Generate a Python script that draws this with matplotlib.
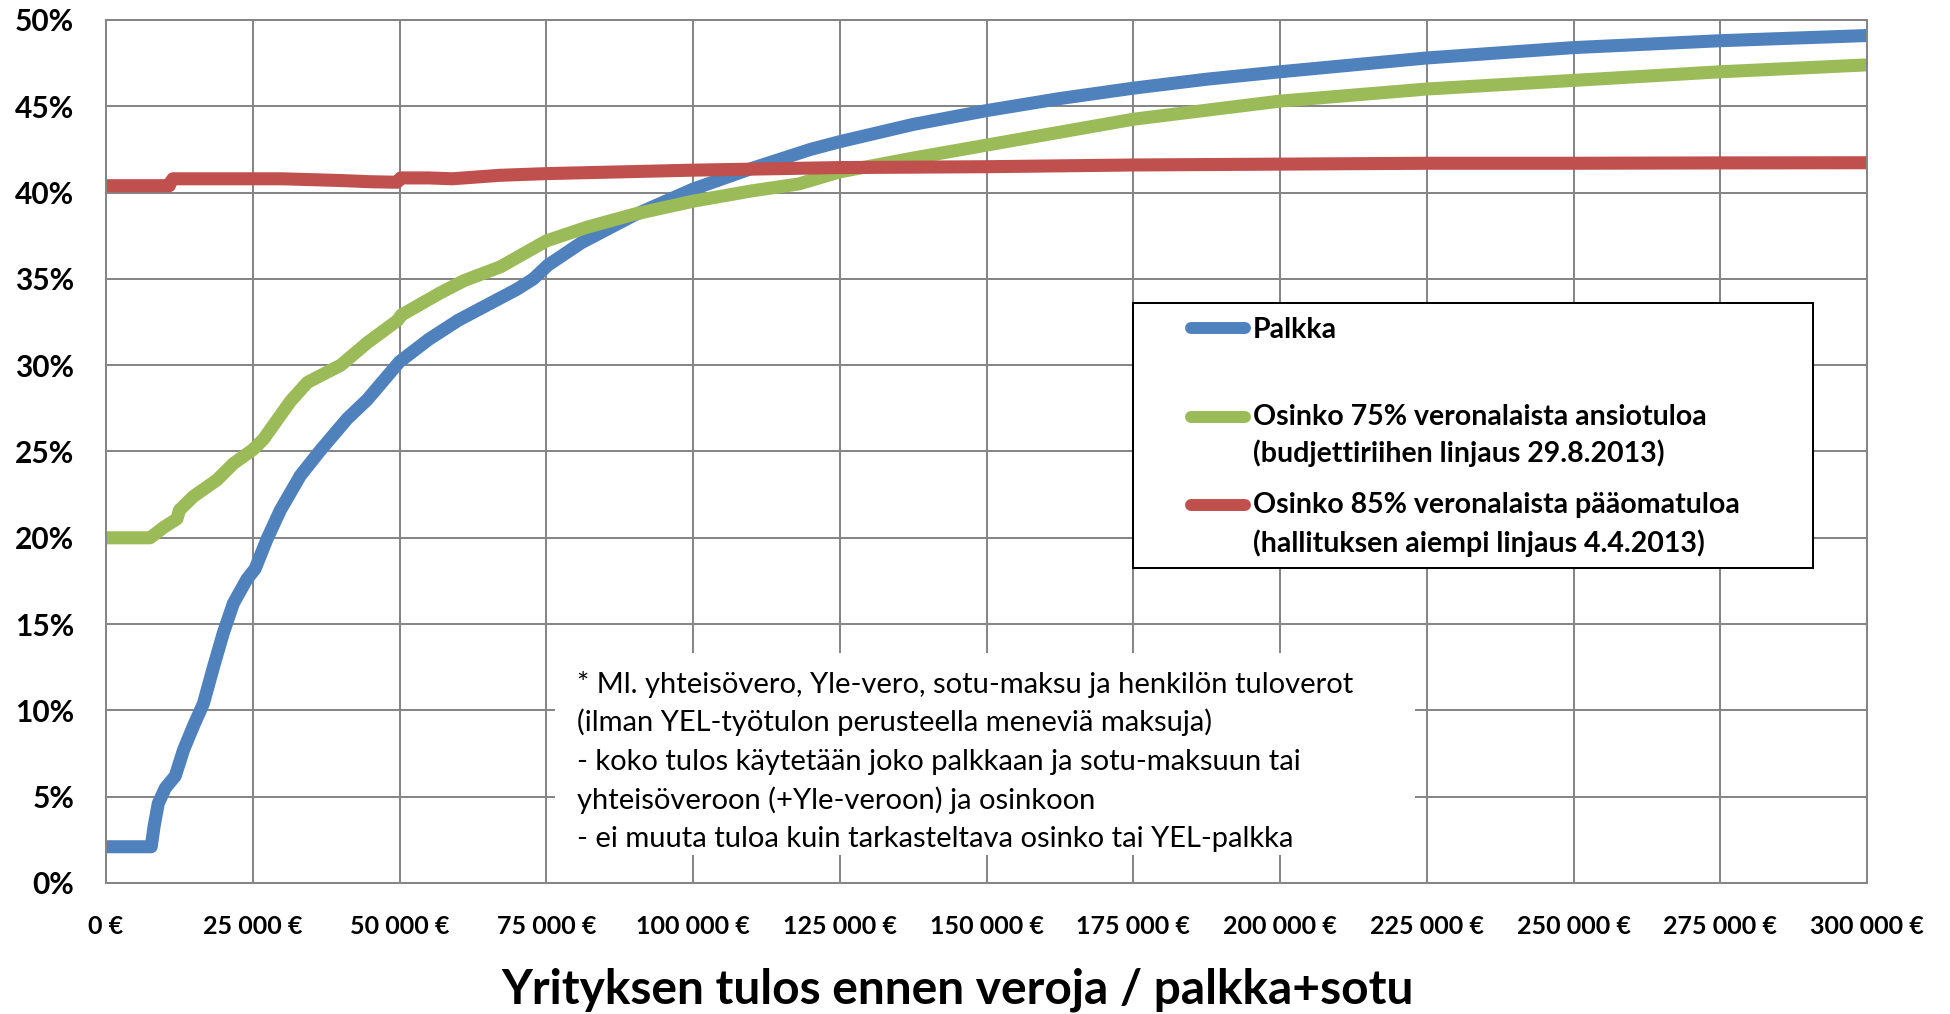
import matplotlib
matplotlib.use("Agg")
import matplotlib.pyplot as plt
from matplotlib.transforms import Affine2D
from matplotlib.patches import Rectangle
from matplotlib.lines import Line2D

plt.rcParams['font.family'] = ['Lato', 'DejaVu Sans']

# ---------------- data ----------------
palkka_x = [0, 7700, 8200, 8900, 10100, 11800, 13200, 14900, 16600, 18300, 20000, 21700,
            24000, 25400, 27400, 29700, 33100, 36600, 41100, 44500, 50000, 55000, 60000,
            65000, 70000, 72800, 75300, 81000, 90000, 100000, 110000, 120000, 125000,
            137500, 150000, 162500, 175000, 187500, 200000, 225000, 250000, 275000, 300000]
palkka_y = [2.1, 2.1, 3.3, 4.6, 5.5, 6.2, 7.7, 9.1, 10.4, 12.5, 14.5, 16.2,
            17.6, 18.2, 19.9, 21.6, 23.6, 25.1, 26.9, 28.0, 30.2, 31.5, 32.6,
            33.5, 34.4, 35.0, 35.8, 37.1, 38.7, 40.2, 41.4, 42.5, 42.95,
            43.95, 44.75, 45.45, 46.05, 46.57, 47.0, 47.8, 48.4, 48.8, 49.1]

osinko75_x = [0, 7500, 9800, 12100, 12500, 14900, 18900, 21700, 25000, 26800, 29100,
              31400, 34300, 37700, 40000, 44500, 49700, 50300, 57000, 61000, 67200,
              75000, 82000, 90000, 100000, 110000, 118000, 125000, 137500, 150000,
              175000, 200000, 225000, 250000, 275000, 300000]
osinko75_y = [20.0, 20.0, 20.6, 21.1, 21.6, 22.4, 23.35, 24.3, 25.1, 25.7, 26.8,
              27.9, 29.0, 29.6, 30.0, 31.3, 32.6, 32.9, 34.2, 34.9, 35.7,
              37.2, 38.0, 38.75, 39.5, 40.1, 40.5, 41.2, 42.0, 42.75,
              44.25, 45.3, 46.0, 46.5, 47.0, 47.4]

osinko85_x = [0, 10800, 11000, 11400, 25000, 30000, 40000, 45000, 49600, 50200, 55000,
              59000, 67000, 75000, 100000, 125000, 150000, 175000, 200000, 225000,
              250000, 275000, 300000]
osinko85_y = [40.4, 40.4, 40.6, 40.8, 40.8, 40.8, 40.7, 40.63, 40.6, 40.85, 40.85,
              40.8, 41.0, 41.1, 41.3, 41.45, 41.5, 41.6, 41.65, 41.7,
              41.7, 41.72, 41.73]

series_labels = [["Palkka"],
                 ["Osinko 75% veronalaista ansiotuloa", "(budjettiriihen linjaus 29.8.2013)"],
                 ["Osinko 85% veronalaista pääomatuloa", "(hallituksen aiempi linjaus 4.4.2013)"]]
series_colors = ["#4F81BD", "#9BBB59", "#C0504D"]

x_ticks = [0, 25000, 50000, 75000, 100000, 125000, 150000, 175000, 200000,
           225000, 250000, 275000, 300000]
x_tick_labels = ["0 €", "25 000 €", "50 000 €", "75 000 €", "100 000 €", "125 000 €",
                 "150 000 €", "175 000 €", "200 000 €", "225 000 €", "250 000 €",
                 "275 000 €", "300 000 €"]
y_ticks = [0, 5, 10, 15, 20, 25, 30, 35, 40, 45, 50]
y_tick_labels = ["0%", "5%", "10%", "15%", "20%", "25%", "30%", "35%", "40%", "45%", "50%"]

x_title = "Yrityksen tulos ennen veroja / palkka+sotu"
note_lines = ["* Ml. yhteisövero, Yle-vero, sotu-maksu ja henkilön tuloverot",
              "(ilman YEL-työtulon perusteella meneviä maksuja)",
              "- koko tulos käytetään joko palkkaan ja sotu-maksuun tai",
              "yhteisöveroon (+Yle-veroon) ja osinkoon",
              "- ei muuta tuloa kuin tarkasteltava osinko tai YEL-palkka"]

# ---------------- figure ----------------
W, H = 1950, 1014
fig = plt.figure(figsize=(W / 100, H / 100), dpi=100)
ax = fig.add_axes([106 / W, 1 - 883 / H, (1867 - 106) / W, (883 - 20) / H])
px = Affine2D().scale(1 / W, -1 / H).translate(0, 1) + fig.transFigure

grid_c = "#868686"
ax.set_xlim(0, 300000)
ax.set_ylim(0, 50)
ax.set_xticks(x_ticks)
ax.set_xticklabels(x_tick_labels, fontsize=18, fontweight="bold")
ax.set_yticks(y_ticks)
ax.set_yticklabels(y_tick_labels, fontsize=21.5, fontweight="bold")
ax.tick_params(axis="both", length=0)
ax.tick_params(axis="x", pad=23)
ax.tick_params(axis="y", pad=23)
ax.set_axisbelow(True)
ax.grid(True, color=grid_c, lw=1.45)
for sp in ax.spines.values():
    sp.set_color(grid_c)
    sp.set_linewidth(1.45)

for xs, ys, c in [(palkka_x, palkka_y, series_colors[0]),
                  (osinko75_x, osinko75_y, series_colors[1]),
                  (osinko85_x, osinko85_y, series_colors[2])]:
    ax.plot(xs, ys, color=c, lw=9.4, solid_capstyle="round",
            solid_joinstyle="round", zorder=2)

# note box
ax.add_patch(Rectangle((555, 653), 860, 202, transform=px, facecolor="white",
                       edgecolor="none", clip_on=False, zorder=1.5))
for i, line in enumerate(note_lines):
    ax.text(577, 693 + i * 38.5, line, transform=px, fontsize=21, color="black",
            ha="left", va="baseline", zorder=6)

# legend
ax.add_patch(Rectangle((1133, 303), 680, 265, transform=px, facecolor="white",
                       edgecolor="black", lw=1.45, clip_on=False, zorder=3))
handle_y = [328, 417, 505]
baselines = [[338], [425, 462], [513, 552]]
for hy, bls, labs, c in zip(handle_y, baselines, series_labels, series_colors):
    ax.add_line(Line2D([1191, 1245], [hy, hy], transform=px, color=c, lw=8.6,
                       solid_capstyle="round", clip_on=False, zorder=4))
    for bl, lab in zip(bls, labs):
        ax.text(1253, bl, lab, transform=px, fontsize=20.5, fontweight="bold",
                ha="left", va="baseline", zorder=5)

fig.text(958, 1004, x_title, transform=px, fontsize=34.5, fontweight="bold",
         ha="center", va="baseline")

fig.savefig("out.png", dpi=100, facecolor="white")
